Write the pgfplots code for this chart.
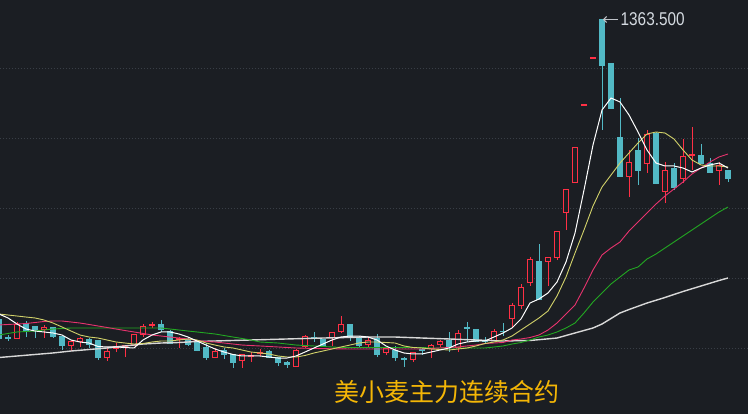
\documentclass[border=0pt]{standalone}
\usepackage{pgfplots}
\usepackage{pgfplotstable}
\pgfplotsset{compat=1.18}
\usetikzlibrary{arrows.meta}
\usepackage{fontspec}
\setmainfont{Liberation Sans}
\newfontfamily\cjk{Noto Sans CJK SC}

\definecolor{bg}{HTML}{1B1E23}
\definecolor{grd}{HTML}{393E46}
\definecolor{upc}{HTML}{FF3045}
\definecolor{dnc}{HTML}{52B9C5}
\definecolor{ma5}{HTML}{FFFFFF}
\definecolor{ma10}{HTML}{D2D26A}
\definecolor{ma20}{HTML}{E8336E}
\definecolor{ma40}{HTML}{22A822}
\definecolor{ma60}{HTML}{D8D8D8}
\definecolor{ttl}{HTML}{F4B606}
\definecolor{lbl}{HTML}{D4DAE0}

\tikzset{
  upwick/.style={draw=upc, line width=1pt, mark=none},
  dnwick/.style={draw=dnc, line width=1pt, mark=none},
  upbody/.style={draw=upc, fill=bg, line width=1pt, mark=none, line cap=rect},
  dnbody/.style={draw=dnc, fill=dnc, line width=1pt, mark=none, line cap=rect},
}

% daily bars: index, open, high, low, close
\pgfplotstableread{
i o h l c
-1 826.8 830.4 791.1 794.6
0 796.4 800.0 789.3 794.6
1 794.6 823.2 794.6 819.6
2 821.4 825.0 796.4 805.4
3 814.3 814.3 794.6 810.7
4 810.7 817.9 794.6 812.5
5 812.5 812.5 794.6 798.2
6 798.2 798.2 773.2 780.4
7 782.1 791.1 771.4 787.5
8 787.5 796.4 778.6 792.9
9 791.1 794.6 776.8 783.9
10 789.3 791.1 755.4 760.7
11 760.7 776.8 753.6 771.4
12 775.0 785.7 769.6 778.6
13 778.6 782.1 760.7 780.4
14 782.1 801.8 782.1 800.0
15 800.0 819.6 796.4 814.3
16 816.1 823.2 812.5 817.9
17 819.6 826.8 805.4 810.7
18 807.1 808.9 783.9 785.7
19 791.1 796.4 776.8 794.6
20 791.1 796.4 780.4 783.9
21 787.5 787.5 771.4 773.2
22 776.8 785.7 755.4 760.7
23 760.7 776.8 758.9 771.4
24 773.2 776.8 757.1 764.3
25 764.3 764.3 741.1 750.0
26 753.6 766.1 741.1 764.3
27 761.6 769.6 751.8 763.4
28 766.1 775.0 762.5 769.6
29 771.4 773.2 758.9 760.7
30 760.7 760.7 744.6 750.0
31 750.0 753.6 741.1 748.2
32 744.6 775.0 744.6 773.2
33 778.6 800.0 776.8 798.2
34 796.4 805.4 787.5 794.6
35 791.1 792.9 780.4 782.1
36 796.4 805.4 780.4 803.6
37 805.4 833.9 803.6 819.6
38 819.6 819.6 789.3 796.4
39 796.4 798.2 776.8 782.1
40 783.9 796.4 778.6 789.3
41 794.6 801.8 760.7 764.3
42 767.9 778.6 764.3 775.0
43 773.2 780.4 753.6 760.7
44 758.0 760.7 742.9 756.3
45 757.1 769.6 751.8 767.9
46 774.1 776.8 764.3 772.3
47 775.0 783.9 758.9 782.1
48 783.9 791.1 778.6 787.5
49 789.3 805.4 769.6 776.8
50 776.8 808.9 769.6 801.8
51 813.4 823.2 787.5 811.6
52 810.7 810.7 787.5 787.5
53 788.4 796.4 783.9 787.5
54 789.3 810.7 789.3 807.1
55 807.1 821.4 798.2 805.4
56 828.6 857.1 814.3 851.8
57 851.8 891.1 846.4 885.7
58 894.6 939.3 887.5 935.7
59 932.1 962.5 862.5 862.5
60 932.1 937.5 887.5 937.5
61 937.5 985.7 933.9 985.7
62 1017.9 1060.7 987.5 1060.7
63 1073.2 1135.7 1071.4 1135.7
64 1209.8 1211.6 1209.8 1211.6
65 1293.8 1295.5 1293.8 1295.5
66 1363.5 1363.5 1166.1 1282.1
67 1285.7 1285.7 1203.6 1203.6
68 1151.8 1223.2 1082.1 1083.9
69 1083.9 1130.4 1046.4 1108.9
70 1128.6 1151.8 1067.9 1094.6
71 1107.1 1166.1 1089.3 1158.9
72 1160.7 1162.5 1069.6 1071.4
73 1055.4 1108.9 1035.7 1094.6
74 1098.2 1107.1 1058.9 1062.5
75 1078.6 1150.0 1071.4 1117.9
76 1120.5 1171.4 1094.6 1122.3
77 1121.4 1141.1 1107.1 1107.1
78 1107.1 1116.1 1089.3 1089.3
79 1092.9 1108.9 1067.9 1101.8
80 1094.6 1094.6 1073.2 1078.6
}\kline

\pgfplotstableread{
x y
-1 837.5
0 830.4
1 819.6
2 810.7
3 807.1
4 805.4
5 803.6
6 800.0
7 791.1
8 787.5
9 785.7
10 779.5
11 778.6
12 778.6
13 777.7
14 776.8
15 791.1
16 800.0
17 805.4
18 805.4
19 801.8
20 796.4
21 789.3
22 782.1
23 775.0
24 769.6
25 765.2
26 762.5
27 762.5
28 762.5
29 760.7
30 758.9
31 758.9
32 762.5
33 769.6
34 776.8
35 783.9
36 791.1
37 796.4
38 798.2
39 798.2
40 796.4
41 791.1
42 780.4
43 773.2
44 767.9
45 766.1
46 766.1
47 769.6
48 773.2
49 776.8
50 783.9
51 787.5
52 789.3
53 789.3
54 796.4
55 803.6
56 812.5
57 828.6
58 857.1
59 864.3
60 875.0
61 894.6
62 930.4
63 982.1
64 1058.9
65 1139.3
66 1201.8
67 1223.2
68 1216.1
69 1192.9
70 1162.5
71 1130.4
72 1107.1
73 1101.8
74 1101.8
75 1098.2
76 1091.1
77 1098.2
78 1103.6
79 1107.1
80 1098.2
}\mafive

\pgfplotstableread{
x y
-1 837.5
0 835.7
1 833.9
2 832.1
3 830.4
4 826.8
5 821.4
6 814.3
7 807.1
8 800.0
9 796.4
10 794.6
11 791.1
12 787.5
13 785.7
14 783.9
15 784.8
16 787.5
17 789.3
18 789.3
19 791.1
20 792.9
21 791.1
22 785.7
23 782.1
24 778.6
25 776.8
26 773.2
27 769.6
28 767.9
29 766.1
30 762.5
31 760.7
32 760.7
33 763.4
34 767.9
35 771.4
36 775.0
37 778.6
38 782.1
39 785.7
40 787.5
41 787.5
42 786.6
43 785.7
44 780.4
45 777.7
46 776.8
47 775.0
48 774.1
49 773.2
50 775.0
51 776.8
52 780.4
53 784.8
54 787.5
55 791.1
56 798.2
57 808.9
58 819.6
59 830.4
60 842.9
61 869.6
62 903.6
63 946.4
64 987.5
65 1030.4
66 1064.3
67 1085.7
68 1107.1
69 1125.0
70 1142.9
71 1158.9
72 1162.5
73 1160.7
74 1150.0
75 1130.4
76 1112.5
77 1103.6
78 1101.8
79 1101.8
80 1100.0
}\maten

\pgfplotstableread{
x y
-1 817.9
0 818.8
1 819.6
2 820.5
3 822.3
4 824.1
5 825.0
6 825.0
7 823.2
8 821.4
9 818.8
10 816.1
11 813.4
12 810.7
13 808.0
14 805.4
15 802.7
16 800.0
17 798.2
18 796.4
19 794.6
20 792.9
21 790.2
22 788.4
23 787.5
24 785.7
25 783.9
26 782.1
27 781.2
28 780.4
29 779.5
30 778.6
31 777.7
32 776.8
34 775.9
38 775.0
46 775.0
47 775.9
48 776.8
49 777.7
50 778.6
51 780.4
52 782.1
53 784.8
54 785.7
55 786.6
56 791.1
57 792.9
58 795.5
59 800.0
60 808.9
61 821.4
62 837.5
63 853.6
64 883.9
65 916.1
66 942.9
67 955.4
68 966.1
69 985.7
70 1001.8
71 1017.9
72 1033.9
73 1048.2
74 1060.7
75 1073.2
76 1087.5
77 1098.2
78 1108.9
79 1117.9
80 1123.2
}\matwenty

\pgfplotstableread{
x y
-1 800.0
0 802.7
1 805.4
2 806.2
3 807.1
4 808.9
5 810.7
6 811.6
7 812.5
17 812.5
18 810.7
19 808.9
20 807.1
21 805.4
22 803.6
23 801.8
24 799.1
25 796.4
26 793.8
27 791.1
28 787.5
29 786.6
30 785.7
31 783.9
32 782.1
33 781.2
34 780.4
35 779.5
36 778.6
37 777.7
46 777.7
47 776.8
53 776.8
54 778.6
55 780.4
56 783.9
57 786.6
58 791.1
59 796.4
60 800.0
61 805.4
62 812.5
63 821.4
64 839.3
65 858.9
66 875.0
67 891.1
68 903.6
69 916.1
70 921.4
71 935.7
72 944.6
73 955.4
74 966.1
75 976.8
76 987.5
77 998.2
78 1008.9
79 1019.6
80 1028.6
}\mafourty

\pgfplotstableread{
x y
-1 759.8
1 762.5
3 765.2
5 767.9
7 771.4
9 774.1
11 776.8
13 780.4
15 783.9
17 785.7
19 786.6
21 788.4
23 789.3
27 791.1
31 792.9
35 794.6
40 796.4
43 796.4
46 794.6
49 792.9
52 791.1
55 789.3
58 790.2
61 794.6
63 803.6
65 812.5
66 819.6
68 839.3
69 845.5
71 857.1
73 867.0
75 877.7
77 887.5
79 897.3
80 901.8
}\masixty

\begin{document}
\begin{tikzpicture}
\pgfplotstablegetrowsof{\kline}
\pgfmathtruncatemacro{\lastrow}{\pgfplotsretval-1}
\begin{axis}[
  width=748pt, height=414pt, scale only axis,
  xmin=-0.8889, xmax=82.2222,
  ymin=658.93, ymax=1398.21,
  axis line style={draw=none},
  axis background/.style={fill=bg},
  xtick=\empty,
  ytick={775,900,1025,1150,1275},
  yticklabels={},
  major tick length=0pt,
  ymajorgrids,
  grid style={grd, line width=1pt, dash pattern=on 1pt off 2pt},
]
\pgfplotsforeachungrouped \krow in {0,...,\lastrow}{%
  \pgfplotstablegetelem{\krow}{i}\of\kline \let\ki\pgfplotsretval
  \pgfplotstablegetelem{\krow}{o}\of\kline \let\ko\pgfplotsretval
  \pgfplotstablegetelem{\krow}{h}\of\kline \let\kh\pgfplotsretval
  \pgfplotstablegetelem{\krow}{l}\of\kline \let\kl\pgfplotsretval
  \pgfplotstablegetelem{\krow}{c}\of\kline \let\kc\pgfplotsretval
  \pgfmathsetmacro\kbot{min(\ko,\kc)}
  \pgfmathsetmacro\ktop{max(\ko,\kc)}
  \pgfmathsetmacro\xa{\ki-0.315}
  \pgfmathsetmacro\xb{\ki+0.315}
  \pgfmathtruncatemacro\isup{\kc>=\ko}
  \ifnum\isup=1 \def\kb{upbody}\def\kw{upwick}\else\def\kb{dnbody}\def\kw{dnwick}\fi
  \edef\doit{%
    \noexpand\addplot[\kw] coordinates {(\ki,\kl) (\ki,\kbot)};
    \noexpand\addplot[\kw] coordinates {(\ki,\ktop) (\ki,\kh)};
    \noexpand\addplot[\kb] coordinates {(\xa,\kbot) (\xb,\kbot) (\xb,\ktop) (\xa,\ktop) (\xa,\kbot)};
  }\doit
}
\addplot[ma60, line width=1.4pt] table {\masixty};
\addplot[ma40, line width=0.9pt] table {\mafourty};
\addplot[ma20, line width=0.9pt] table {\matwenty};
\addplot[ma10, line width=0.9pt] table {\maten};
\addplot[ma5, line width=1pt] table {\mafive};

\draw[lbl!75!gray, line width=1pt, -{Straight Barb[length=3pt,width=6pt]}]
  (axis cs:67.8,1363.5) -- (axis cs:66.1,1363.5);
\node[anchor=west, inner sep=0pt, text=lbl] at (axis cs:68.05,1363.5)
  {\scalebox{0.83}[1]{\fontsize{18.5}{20}\selectfont 1363.500}};
\node[text=ttl, inner sep=0pt] at (rel axis cs:0.598,0.054)
  {\cjk\fontsize{25}{25}\selectfont 美小麦主力连续合约};
\end{axis}
\pgfresetboundingbox
\path[use as bounding box] (current axis.south west) rectangle (current axis.north east);
\end{tikzpicture}
\end{document}
